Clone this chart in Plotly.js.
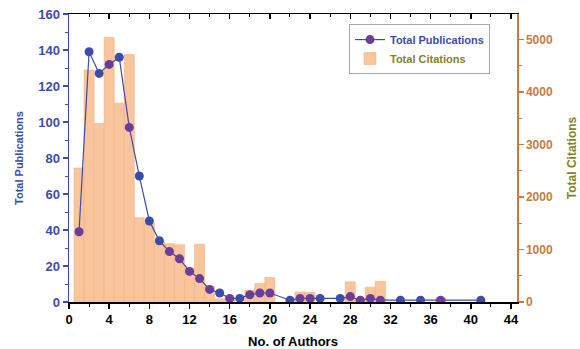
<!DOCTYPE html>
<html>
<head>
<meta charset="utf-8">
<script src="https://cdn.plot.ly/plotly-3.0.1.min.js"></script>
<style>
  html, body { margin: 0; padding: 0; background: #fff; }
  #chart { width: 580px; height: 349px; }
</style>
</head>
<body>
<div id="chart"></div>
<script>
// ---- data ----
const authors = [1,2,3,4,5,6,7,8,9,10,11,12,13,14,15,16,17,18,19,20,22,23,24,25,27,28,29,30,31,33,35,37,41];
const publications = [39,139,127,132,136,97,70,45,34,28,24,17,13,7,5,2,2,4,5,5,1,2,2,2,2,3,1,2,1,1,1,1,1];

const barAuthors = [1,2,3,4,5,6,7,8,9,10,11,12,13,14,15,16,18,19,20,23,24,28,29,30,31,37];
const citations = [2550,4415,3400,5035,3785,4710,1605,1500,1140,1110,1090,640,1100,300,60,80,223,350,465,190,180,385,40,280,394,84];

const xTickVals = [0,4,8,12,16,20,24,28,32,36,40,44];

// ---- axis ranges ----
const PUB_MAX = 160;
const CIT_MAX = 5482;
const X_MAX = 44.6;

const BLUE = '#3B4CAA';
const PURPLE = '#6A3C9C';
const ORANGE = '#C47C44';
const OLIVE = '#7F8424';
const PEACH = '#F8C59C';
const FONT = 'Arial, "Liberation Sans", sans-serif';

// markers that sit under a bar look purple in the reference
const markerColors = publications.map((p, i) => {
  const j = barAuthors.indexOf(authors[i]);
  const c = j >= 0 ? citations[j] : 0;
  return (c / CIT_MAX >= p / PUB_MAX) ? PURPLE : BLUE;
});

const bars = {
  type: 'bar',
  x: barAuthors,
  y: citations,
  width: 1,
  xaxis: 'x',
  yaxis: 'y',
  name: '<span style="color:' + OLIVE + '">Total Citations</span>',
  legendrank: 2,
  marker: { color: PEACH, line: { color: '#F2B185', width: 0.6 } },
  hoverinfo: 'x+y'
};

const pubs = {
  type: 'scatter',
  mode: 'lines+markers',
  x: authors,
  y: publications,
  xaxis: 'x2',
  yaxis: 'y2',
  name: '<span style="color:' + BLUE + '">Total Publications</span>',
  legendrank: 1,
  line: { color: BLUE, width: 1.2 },
  marker: { color: markerColors, size: 9, line: { width: 0 } }
};

const layout = {
  width: 580,
  height: 349,
  margin: { l: 69, r: 63, t: 14, b: 47 },
  paper_bgcolor: '#fff',
  plot_bgcolor: '#fff',
  font: { family: FONT, size: 13, color: '#000' },
  showlegend: true,
  bargap: 0,
  legend: {
    x: 0.625, y: 0.965, xanchor: 'left', yanchor: 'top',
    bgcolor: '#fff', bordercolor: '#A8A8A8', borderwidth: 1,
    font: { family: FONT, size: 11, weight: 'bold' },
    tracegroupgap: 0,
    itemwidth: 30
  },
  xaxis: {
    range: [0, X_MAX],
    tickvals: xTickVals,
    ticks: 'outside', ticklen: 5, tickwidth: 1.5, tickcolor: '#000',
    showline: true, linecolor: '#000', linewidth: 1.5,
    showgrid: false, zeroline: false,
    tickfont: { family: FONT, size: 13, weight: 'bold', color: '#000' },
    minor: { dtick: 2, tick0: 0, ticks: 'outside', ticklen: 3, tickwidth: 1, tickcolor: '#000', showgrid: false },
    title: { text: 'No. of Authors', font: { family: FONT, size: 13, weight: 'bold', color: '#000' }, standoff: 14 },
    anchor: 'y'
  },
  xaxis2: {
    overlaying: 'x',
    side: 'top',
    range: [0, X_MAX],
    tickvals: xTickVals,
    ticks: 'inside', ticklen: 5, tickwidth: 1.5, tickcolor: '#000',
    showticklabels: false,
    showline: true, linecolor: '#000', linewidth: 1.5,
    showgrid: false, zeroline: false,
    minor: { dtick: 2, tick0: 0, ticks: 'inside', ticklen: 3, tickwidth: 1, tickcolor: '#000', showgrid: false },
    anchor: 'y2'
  },
  yaxis: {
    side: 'right',
    range: [0, CIT_MAX],
    dtick: 1000, tick0: 0,
    ticks: 'outside', ticklen: 5, tickwidth: 1.5, tickcolor: ORANGE,
    showline: true, linecolor: ORANGE, linewidth: 1.5,
    showgrid: false, zeroline: false,
    tickfont: { family: FONT, size: 12, weight: 'bold', color: ORANGE },
    minor: { dtick: 500, tick0: 0, ticks: 'outside', ticklen: 3, tickwidth: 1, tickcolor: ORANGE, showgrid: false },
    title: { text: 'Total Citations', font: { family: FONT, size: 12, weight: 'bold', color: OLIVE }, standoff: 15 },
    anchor: 'x'
  },
  yaxis2: {
    overlaying: 'y',
    side: 'left',
    range: [0, PUB_MAX],
    dtick: 20, tick0: 0,
    ticks: 'outside', ticklen: 5, tickwidth: 1.5, tickcolor: BLUE,
    showline: true, linecolor: BLUE, linewidth: 1.5,
    showgrid: false, zeroline: false,
    tickfont: { family: FONT, size: 13, weight: 'bold', color: BLUE },
    minor: { dtick: 10, tick0: 0, ticks: 'outside', ticklen: 3, tickwidth: 1, tickcolor: BLUE, showgrid: false },
    title: { text: 'Total Publications', font: { family: FONT, size: 11, weight: 'bold', color: BLUE }, standoff: 12 },
    anchor: 'x2'
  }
};

Plotly.newPlot('chart', [bars, pubs], layout, { displayModeBar: false, staticPlot: true });
</script>
</body>
</html>
